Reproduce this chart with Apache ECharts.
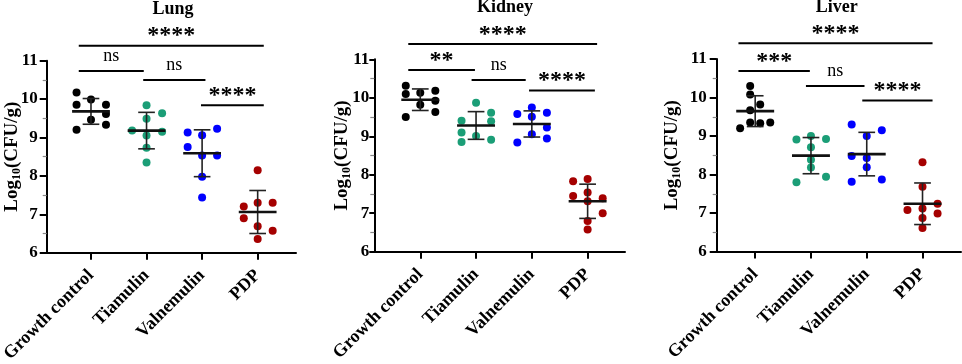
<!DOCTYPE html>
<html>
<head>
<meta charset="utf-8">
<script src="https://cdn.jsdelivr.net/npm/echarts@6/dist/echarts.min.js"></script>
<style>
  html, body { margin: 0; padding: 0; background: #fff; }
  #chart { width: 962px; height: 364px; }
</style>
</head>
<body>
<div id="chart"></div>
<script>
const categories = ['Growth control', 'Tiamulin', 'Valnemulin', 'PDP']
const organs = ['Lung', 'Kidney', 'Liver']
const yTicks = [6, 7, 8, 9, 10, 11]

// Log10(CFU/g) for each animal
const lungGrowth = [10.17, 9.99, 9.85, 9.85, 9.61, 9.46, 9.33, 9.20]
const lungTiamulin = [9.84, 9.63, 9.49, 9.18, 9.15, 9.05, 8.73, 8.35]
const lungValnemulin = [9.23, 9.13, 9.06, 8.75, 8.53, 8.53, 7.98, 7.44]
const lungPDP = [8.15, 7.30, 7.30, 7.20, 6.90, 6.69, 6.57, 6.36]

const kidneyGrowth = [10.31, 10.18, 10.13, 10.10, 9.92, 9.82, 9.63, 9.50]
const kidneyTiamulin = [9.87, 9.61, 9.40, 9.39, 9.10, 9.01, 8.91, 8.85]
const kidneyValnemulin = [9.75, 9.61, 9.58, 9.51, 9.23, 9.05, 8.94, 8.84]
const kidneyPDP = [7.89, 7.83, 7.54, 7.45, 7.39, 7.31, 7.00, 6.80, 6.58]

const liverGrowth = [10.30, 10.08, 9.82, 9.67, 9.35, 9.35, 9.33, 9.20]
const liverTiamulin = [9.00, 8.92, 8.91, 8.71, 8.38, 8.18, 7.94, 7.80]
const liverValnemulin = [9.30, 9.15, 9.00, 8.48, 8.43, 8.19, 7.87, 7.81]
const liverPDP = [8.32, 7.68, 7.24, 7.12, 7.08, 6.99, 6.87, 6.61]

// mean and SD as drawn in the figure
const lungMean = [9.68, 9.18, 8.59, 7.06]
const lungSD = [0.335, 0.475, 0.61, 0.56]
const kidneyMean = [9.95, 9.28, 9.32, 7.31]
const kidneySD = [0.28, 0.36, 0.34, 0.445]
const liverMean = [9.645, 8.49, 8.53, 7.24]
const liverSD = [0.40, 0.47, 0.565, 0.54]

// significance labels (all vs PDP, 1 vs 2, 2 vs 3, 3 vs 4)
const lungSig = ['****', 'ns', 'ns', '****']
const kidneySig = ['****', '**', 'ns', '****']
const liverSig = ['****', '***', 'ns', '****']

// horizontal scatter of the dots inside each column (same order as values)
const lungJitter = [
  [-0.26, 0, -0.26, 0.27, 0.27, 0, 0.27, -0.26],
  [0, 0.28, 0, -0.26, 0.28, 0, 0, 0],
  [0.27, -0.26, 0, -0.26, 0, 0.27, 0, 0],
  [0, 0, 0.27, -0.25, -0.25, 0, 0.27, 0]
]
const kidneyJitter = [
  [-0.26, 0.27, 0, -0.26, 0.27, 0, 0.27, -0.26],
  [0, 0.27, -0.26, 0.27, -0.26, 0, 0.27, -0.26],
  [0, 0.27, -0.26, 0, 0.27, 0, 0.27, -0.26],
  [0, -0.26, 0, -0.26, 0.27, 0, 0.27, 0, 0]
]
const liverJitter = [
  [-0.09, -0.09, 0.09, -0.09, -0.09, 0.27, 0.09, -0.27],
  [0, 0.27, -0.26, 0, 0, 0, 0.27, -0.26],
  [-0.27, 0.27, 0, -0.27, 0, 0, 0.27, -0.27],
  [0, 0, 0.27, 0, -0.27, 0.27, 0, 0]
]

// bracket spans [x from, x to, y level]
const lungSpans = [[-0.22, 3.11, 11.39], [-0.22, 0.95, 10.73], [0.94, 2.06, 10.50], [1.98, 3.11, 9.84]]
const kidneySpans = [[-0.215, 3.17, 11.40], [-0.215, 0.98, 10.72], [0.92, 1.89, 10.46], [1.95, 3.13, 10.19]]
const liverSpans = [[-0.30, 3.18, 11.41], [-0.30, 0.98, 10.69], [0.91, 1.96, 10.30], [1.92, 3.18, 9.92]]

const groupColors = ['#000000', '#1b9e77', '#0000ff', '#a50000']
const serif = '"Liberation Serif", "Times New Roman", serif'

const panels = [
  {
    groups: [lungGrowth, lungTiamulin, lungValnemulin, lungPDP], jitter: lungJitter,
    mean: lungMean, sd: lungSD, sig: lungSig, spans: lungSpans,
    grid: { left: 46.7, top: 60.7, width: 249.3, height: 192 }, xMin: -0.797, xMax: 3.69,
    labelMargin: 9, tickLen: 7, nameGap: 24, title: [173, 9.5]
  },
  {
    groups: [kidneyGrowth, kidneyTiamulin, kidneyValnemulin, kidneyPDP], jitter: kidneyJitter,
    mean: kidneyMean, sd: kidneySD, sig: kidneySig, spans: kidneySpans,
    grid: { left: 374.3, top: 59.3, width: 250.7, height: 192.4 }, xMin: -0.824, xMax: 3.67,
    labelMargin: 5, tickLen: 5, nameGap: 21, title: [505, 7.5]
  },
  {
    groups: [liverGrowth, liverTiamulin, liverValnemulin, liverPDP], jitter: liverJitter,
    mean: liverMean, sd: liverSD, sig: liverSig, spans: liverSpans,
    grid: { left: 716.7, top: 59, width: 244.3, height: 192.5 }, xMin: -0.69, xMax: 3.69,
    labelMargin: 10, tickLen: 7, nameGap: 34, title: [836.7, 7.5]
  }
]

function renderErrorBar (params, api) {
  const x = api.value(0)
  const m = api.value(1)
  const sd = api.value(2)
  const top = api.coord([x, m + sd])
  const mid = api.coord([x, m])
  const bot = api.coord([x, m - sd])
  const unit = api.size([1, 0])[0]
  const barStyle = { stroke: '#222', lineWidth: 1.6 }
  const cap = unit * 0.15
  const half = unit * 0.34
  return {
    type: 'group',
    children: [
      { type: 'line', shape: { x1: top[0], y1: top[1], x2: bot[0], y2: bot[1] }, style: barStyle },
      { type: 'line', shape: { x1: top[0] - cap, y1: top[1], x2: top[0] + cap, y2: top[1] }, style: barStyle },
      { type: 'line', shape: { x1: bot[0] - cap, y1: bot[1], x2: bot[0] + cap, y2: bot[1] }, style: barStyle },
      { type: 'line', shape: { x1: mid[0] - half, y1: mid[1], x2: mid[0] + half, y2: mid[1] }, style: { stroke: '#111', lineWidth: 2.6 } }
    ]
  }
}

function makeBracketRenderer (labels) {
  return function (params, api) {
    const a = api.coord([api.value(0), api.value(2)])
    const b = api.coord([api.value(1), api.value(2)])
    const text = labels[params.dataIndex]
    const stars = text !== 'ns'
    return {
      type: 'group',
      children: [
        { type: 'line', shape: { x1: a[0], y1: a[1], x2: b[0], y2: b[1] }, style: { stroke: '#000', lineWidth: 2 } },
        {
          type: 'text',
          x: (a[0] + b[0]) / 2,
          y: a[1] - (stars ? 9.5 : 15),
          style: {
            text: text,
            font: stars ? 'bold 24px ' + serif : '18px ' + serif,
            fill: '#000',
            align: 'center',
            verticalAlign: 'middle'
          }
        }
      ]
    }
  }
}

const grid = []
const xAxis = []
const yAxis = []
const series = []
const graphic = []

panels.forEach((p, i) => {
  grid.push(Object.assign({ outerBoundsMode: 'none', containLabel: false }, p.grid))

  xAxis.push({
    gridIndex: i,
    type: 'value',
    min: p.xMin,
    max: p.xMax,
    splitLine: { show: false },
    axisLine: { onZero: false, lineStyle: { color: '#000', width: 2 } },
    axisTick: { customValues: [0, 1, 2, 3], length: 7, lineStyle: { color: '#000', width: 2 } },
    axisLabel: {
      customValues: [0, 1, 2, 3],
      formatter: v => categories[Math.round(v)],
      rotate: 45,
      margin: 20,
      fontFamily: serif,
      fontWeight: 'bold',
      fontSize: 18,
      color: '#000'
    }
  })

  yAxis.push({
    gridIndex: i,
    type: 'value',
    min: yTicks[0],
    max: yTicks[yTicks.length - 1],
    interval: yTicks[1] - yTicks[0],
    splitLine: { show: false },
    axisLine: { show: true, onZero: false, lineStyle: { color: '#000', width: 2 } },
    axisTick: { show: true, length: p.tickLen, lineStyle: { color: '#000', width: 2 } },
    minorTick: { show: true, splitNumber: 2, length: 4, lineStyle: { color: '#888', width: 1.2 } },
    axisLabel: {
      margin: p.labelMargin,
      fontFamily: serif,
      fontWeight: 'bold',
      fontSize: 17,
      color: '#000'
    },
    name: '{a|Log}{b|10}{a|(CFU/g)}',
    nameLocation: 'middle',
    nameGap: p.nameGap,
    nameRotate: 90,
    nameMoveOverlap: false,
    nameTextStyle: {
      rich: {
        a: { fontFamily: serif, fontWeight: 'bold', fontSize: 19, lineHeight: 22, color: '#000' },
        b: { fontFamily: serif, fontWeight: 'bold', fontSize: 12, lineHeight: 12, verticalAlign: 'bottom', color: '#000' }
      }
    }
  })

  p.groups.forEach((vals, g) => {
    series.push({
      type: 'scatter',
      xAxisIndex: i,
      yAxisIndex: i,
      symbolSize: 8,
      itemStyle: { color: groupColors[g], opacity: 1 },
      z: 2,
      data: vals.map((v, k) => [g + p.jitter[g][k], v])
    })
  })

  series.push({
    type: 'custom',
    xAxisIndex: i,
    yAxisIndex: i,
    clip: false,
    z: 3,
    renderItem: renderErrorBar,
    data: p.mean.map((m, g) => [g, m, p.sd[g]])
  })

  series.push({
    type: 'custom',
    xAxisIndex: i,
    yAxisIndex: i,
    clip: false,
    z: 3,
    renderItem: makeBracketRenderer(p.sig),
    data: p.spans
  })

  graphic.push({
    type: 'text',
    x: p.title[0],
    y: p.title[1],
    style: {
      text: organs[i],
      font: 'bold 18px ' + serif,
      fill: '#000',
      align: 'center',
      verticalAlign: 'middle'
    }
  })
})

const chart = echarts.init(document.getElementById('chart'))
chart.setOption({
  animation: false,
  backgroundColor: '#fff',
  grid,
  xAxis,
  yAxis,
  series,
  graphic
})
</script>
</body>
</html>
